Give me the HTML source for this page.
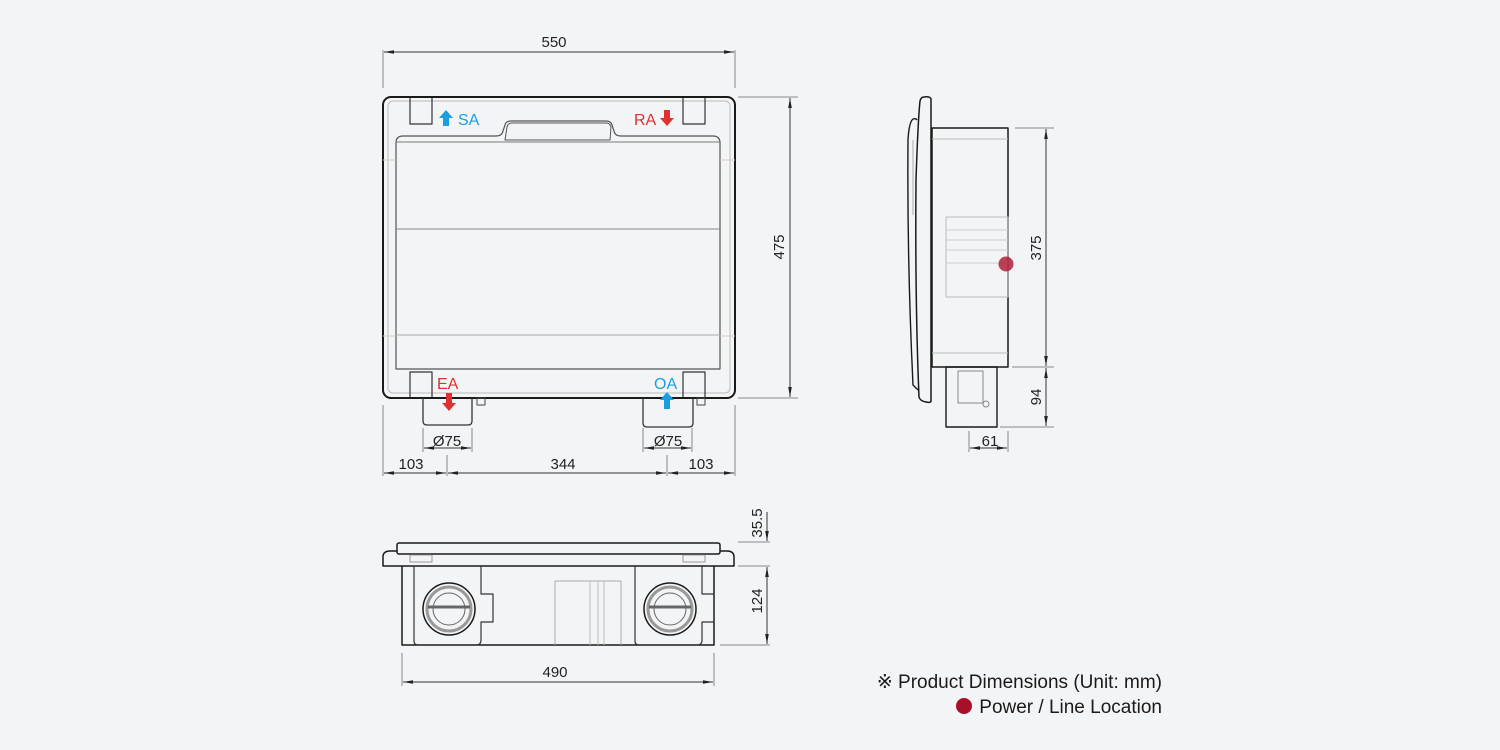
<!DOCTYPE html>
<html><head><meta charset="utf-8"><style>
html,body{margin:0;padding:0;background:#f3f4f6;}
svg{display:block;}
text{font-family:"Liberation Sans",sans-serif;}
</style></head><body>
<svg width="1500" height="750" viewBox="0 0 1500 750" xmlns="http://www.w3.org/2000/svg">
<defs>
<marker id="ah" viewBox="0 0 10 6" refX="10" refY="3" markerWidth="10" markerHeight="6" orient="auto-start-reverse" markerUnits="userSpaceOnUse"><path d="M0,1.2 L10,3 L0,4.8 Z" fill="#222"/></marker>
</defs>
<rect width="1500" height="750" fill="#f3f4f6"/>

<!-- ===== FRONT VIEW ===== -->
<g fill="none" stroke-linejoin="round">
<rect x="383" y="97" width="352" height="301" rx="8" stroke="#1a1a1a" stroke-width="2" fill="#f3f4f6"/>
<rect x="388" y="101" width="342" height="292" rx="5" stroke="#bbb" stroke-width="1"/>
<!-- corner squares -->
<path d="M410 98 V124 H432 V98" stroke="#333" stroke-width="1.2"/>
<path d="M683 98 V124 H705 V98" stroke="#333" stroke-width="1.2"/>
<path d="M410 397 V372 H432 V397" stroke="#333" stroke-width="1.2"/>
<path d="M683 397 V372 H705 V397" stroke="#333" stroke-width="1.2"/>
<!-- panel with handle -->
<path d="M396 369 V143 Q396 136 403 136 H496 Q502 136 503 131 L505 125 Q506 121 511 121 H606 Q611 121 612 125 L614 131 Q615 136 621 136 H713 Q720 136 720 143 V369 Z" stroke="#555" stroke-width="1.2"/>
<path d="M505 140 L507 127 Q508 123 512 123 H606 Q610 123 611 127 L610 140 Z" stroke="#555" stroke-width="1"/>
<line x1="396" y1="142" x2="720" y2="142" stroke="#777" stroke-width="1"/>
<line x1="396" y1="229" x2="720" y2="229" stroke="#888" stroke-width="1"/>
<line x1="396" y1="335" x2="720" y2="335" stroke="#aaa" stroke-width="1"/>
<line x1="383" y1="160" x2="396" y2="160" stroke="#ccc"/><line x1="720" y1="160" x2="735" y2="160" stroke="#ccc"/>
<line x1="383" y1="336" x2="396" y2="336" stroke="#ccc"/><line x1="720" y1="336" x2="735" y2="336" stroke="#ccc"/>
<!-- ducts -->
<path d="M423 398 V421 Q423 425 427 425 H468 Q472 425 472 421 V398" stroke="#333" stroke-width="1.3"/>
<path d="M643 398 V423 Q643 427 647 427 H689 Q693 427 693 423 V398" stroke="#333" stroke-width="1.3"/>
<rect x="477" y="398" width="8" height="7" stroke="#444"/>
<rect x="697" y="398" width="8" height="7" stroke="#444"/>
</g>
<!-- air arrows -->
<path d="M446 110 L453 118 H449 V126 H443 V118 H439 Z" fill="#1a9ee0"/>
<text x="458" y="125" font-size="16" fill="#1a9ee0">SA</text>
<text x="634" y="125" font-size="16" fill="#e03030">RA</text>
<path d="M667 126 L674 118 H670 V110 H664 V118 H660 Z" fill="#e03030"/>
<text x="437" y="389" font-size="16" fill="#e03030">EA</text>
<path d="M449 411 L456 403 H452 V393 H446 V403 H442 Z" fill="#e03030"/>
<text x="654" y="389" font-size="16" fill="#1a9ee0">OA</text>
<path d="M667 392 L674 400 H670 V409 H664 V400 H660 Z" fill="#1a9ee0"/>

<!-- front dims -->
<g stroke="#888" stroke-width="1" fill="none">
<line x1="383" y1="50" x2="383" y2="88"/><line x1="735" y1="50" x2="735" y2="88"/>
<line x1="738" y1="97" x2="798" y2="97"/><line x1="738" y1="398" x2="798" y2="398"/>
<line x1="383" y1="405" x2="383" y2="476"/><line x1="735" y1="405" x2="735" y2="476"/>
<line x1="447" y1="455" x2="447" y2="476"/><line x1="667" y1="455" x2="667" y2="476"/>
<line x1="423" y1="428" x2="423" y2="452"/><line x1="472" y1="428" x2="472" y2="452"/>
<line x1="643" y1="428" x2="643" y2="452"/><line x1="692" y1="428" x2="692" y2="452"/>
</g>
<g stroke="#333" stroke-width="1" marker-start="url(#ah)" marker-end="url(#ah)">
<line x1="384" y1="52" x2="734" y2="52"/>
<line x1="790" y1="98" x2="790" y2="397"/>
<line x1="424" y1="448" x2="471" y2="448"/>
<line x1="644" y1="448" x2="691" y2="448"/>
<line x1="384" y1="473" x2="446" y2="473"/>
<line x1="448" y1="473" x2="666" y2="473"/>
<line x1="668" y1="473" x2="734" y2="473"/>
</g>
<g font-size="15" fill="#222" text-anchor="middle">
<text x="554" y="47">550</text>
<text x="447" y="446">Ø75</text>
<text x="668" y="446">Ø75</text>
<text x="411" y="469">103</text>
<text x="563" y="469">344</text>
<text x="701" y="469">103</text>
<text transform="translate(784,247) rotate(-90)">475</text>
</g>

<!-- ===== SIDE VIEW ===== -->
<g fill="none" stroke-linejoin="round">
<path d="M924 97 Q930 96 931 99 V401 Q931 403 926 402 Q920 401 919 397 Q915 300 916 180 Q918 120 920 101 Q921 97 924 97 Z" stroke="#1a1a1a" stroke-width="1.5" fill="#f3f4f6"/>
<path d="M913 119 Q916 118 917 120 M913 119 Q909 122 908 140 Q907 260 913 385 L918 390" stroke="#1a1a1a" stroke-width="1.4"/>
<line x1="913" y1="140" x2="913" y2="215" stroke="#aaa"/>
<rect x="932" y="128" width="76" height="239" stroke="#1a1a1a" stroke-width="1.5"/>
<line x1="932" y1="139" x2="1008" y2="139" stroke="#bbb"/>
<line x1="932" y1="353" x2="1008" y2="353" stroke="#bbb"/>
<rect x="946" y="217" width="62" height="80" stroke="#bbb"/>
<line x1="946" y1="230" x2="1008" y2="230" stroke="#ccc"/>
<line x1="946" y1="240" x2="1008" y2="240" stroke="#ccc"/>
<line x1="946" y1="250" x2="1008" y2="250" stroke="#ccc"/>
<line x1="946" y1="263" x2="1008" y2="263" stroke="#ccc"/>
<rect x="946" y="367" width="51" height="60" stroke="#1a1a1a" stroke-width="1.4"/>
<rect x="958" y="371" width="25" height="32" stroke="#888"/>
<circle cx="986" cy="404" r="3" stroke="#888"/>
</g>
<circle cx="1006" cy="264" r="7.5" fill="#b0203a" opacity="0.85"/>
<g stroke="#888" stroke-width="1" fill="none">
<line x1="1015" y1="128" x2="1054" y2="128"/>
<line x1="1012" y1="367" x2="1054" y2="367"/>
<line x1="1000" y1="427" x2="1054" y2="427"/>
<line x1="969" y1="431" x2="969" y2="452"/><line x1="1008" y1="431" x2="1008" y2="452"/>
</g>
<g stroke="#333" stroke-width="1" marker-start="url(#ah)" marker-end="url(#ah)">
<line x1="1046" y1="129" x2="1046" y2="366"/>
<line x1="1046" y1="368" x2="1046" y2="426"/>
<line x1="970" y1="448" x2="1007" y2="448"/>
</g>
<g font-size="15" fill="#222" text-anchor="middle">
<text transform="translate(1041,248) rotate(-90)">375</text>
<text transform="translate(1041,397) rotate(-90)">94</text>
<text x="990" y="446">61</text>
</g>

<!-- ===== PLAN VIEW ===== -->
<g fill="none" stroke-linejoin="round">
<rect x="397" y="543" width="323" height="11" rx="2" stroke="#1a1a1a" stroke-width="1.5" fill="#f3f4f6"/>
<path d="M397 551 H390 Q383 551 383 557 V566 H734 V557 Q734 551 727 551 H720" stroke="#1a1a1a" stroke-width="1.5"/>
<rect x="410" y="555" width="22" height="7" stroke="#999"/>
<rect x="683" y="555" width="22" height="7" stroke="#999"/>
<path d="M402 566 V645 H714 V566" stroke="#1a1a1a" stroke-width="1.5"/>
<line x1="555" y1="581" x2="555" y2="645" stroke="#aaa"/>
<line x1="621" y1="581" x2="621" y2="645" stroke="#aaa"/>
<line x1="555" y1="581" x2="621" y2="581" stroke="#aaa"/>
<line x1="590" y1="581" x2="590" y2="645" stroke="#bbb"/>
<line x1="598" y1="581" x2="598" y2="645" stroke="#bbb"/>
<line x1="604" y1="581" x2="604" y2="645" stroke="#bbb"/>
<path d="M414 566 V641 Q414 645 418 645 H476 Q481 645 481 640 V622 H493 V594 H481 V566" stroke="#333" stroke-width="1.2"/>
<path d="M635 566 V641 Q635 645 639 645 H697 Q702 645 702 640 V622 H714 V594 H702 V566" stroke="#333" stroke-width="1.2"/>
<circle cx="449" cy="609" r="26" stroke="#1a1a1a" stroke-width="1.5"/>
<circle cx="449" cy="609" r="22" stroke="#999" stroke-width="3"/>
<circle cx="449" cy="609" r="16" stroke="#666"/>
<line x1="428" y1="607" x2="470" y2="607" stroke="#666" stroke-width="3"/>
<circle cx="670" cy="609" r="26" stroke="#1a1a1a" stroke-width="1.5"/>
<circle cx="670" cy="609" r="22" stroke="#999" stroke-width="3"/>
<circle cx="670" cy="609" r="16" stroke="#666"/>
<line x1="649" y1="607" x2="691" y2="607" stroke="#666" stroke-width="3"/>
</g>
<g stroke="#888" stroke-width="1" fill="none">
<line x1="738" y1="542" x2="770" y2="542"/>
<line x1="738" y1="566" x2="770" y2="566"/>
<line x1="720" y1="645" x2="770" y2="645"/>
<line x1="402" y1="653" x2="402" y2="686"/><line x1="714" y1="653" x2="714" y2="686"/>
</g>
<g stroke="#333" stroke-width="1">
<line x1="767" y1="512" x2="767" y2="541" marker-end="url(#ah)"/>
<line x1="767" y1="567" x2="767" y2="644" marker-start="url(#ah)" marker-end="url(#ah)"/>
<line x1="403" y1="682" x2="713" y2="682" marker-start="url(#ah)" marker-end="url(#ah)"/>
</g>
<g font-size="15" fill="#222" text-anchor="middle">
<text transform="translate(762,523) rotate(-90)">35.5</text>
<text transform="translate(762,601) rotate(-90)">124</text>
<text x="555" y="677">490</text>
</g>

<!-- legend -->
<g font-size="19" fill="#1a1a1a" text-anchor="end">
<text x="1162" y="688">※ Product Dimensions (Unit: mm)</text>
<text x="1162" y="713">Power / Line Location</text>
</g>
<circle cx="964" cy="706" r="8" fill="#a8102a"/>
</svg>
</body></html>
